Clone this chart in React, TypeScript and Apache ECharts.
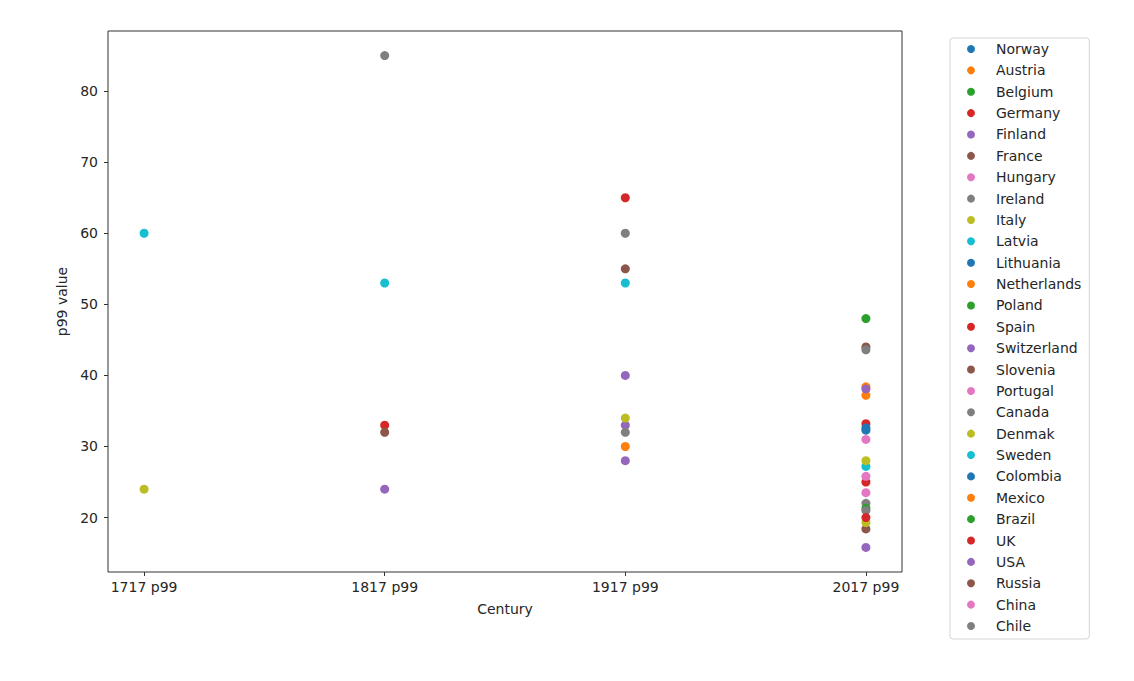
import React, { useEffect, useRef } from "react";
import * as echarts from "echarts";

const categories = ["1717 p99", "1817 p99", "1917 p99", "2017 p99"];
const yTicks = [20, 30, 40, 50, 60, 70, 80];
const xTicks = [0, 1, 2, 3];

const countries = [
  "Norway", "Austria", "Belgium", "Germany", "Finland", "France", "Hungary",
  "Ireland", "Italy", "Latvia", "Lithuania", "Netherlands", "Poland", "Spain",
  "Switzerland", "Slovenia", "Portugal", "Canada", "Denmak", "Sweden",
  "Colombia", "Mexico", "Brazil", "UK", "USA", "Russia", "China", "Chile",
];

const palette = [
  "#1f77b4", "#ff7f0e", "#2ca02c", "#d62728", "#9467bd",
  "#8c564b", "#e377c2", "#7f7f7f", "#bcbd22", "#17becf",
];

// values per century, in the order of `countries` (null = no value)
const p1717 = [
  null, null, null, null, null, null, null, null, null, null,
  null, null, null, null, null, null, null, null, 24, 60,
  null, null, null, null, null, null, null, null,
];
const p1817 = [
  null, null, null, 33, null, 32, null, 85, null, null,
  null, null, null, null, null, null, null, null, null, 53,
  null, null, null, null, 24, null, null, null,
];
const p1917 = [
  null, null, null, null, 33, null, null, null, null, null,
  null, 30, null, null, 28, null, null, 32, 34, 53,
  null, null, null, 65, 40, 55, null, 60,
];
const p2017 = [
  null, 37.2, null, 33.2, 15.8, 18.4, 23.5, 22, 19.3, 27.2,
  32.6, null, 21.3, 25, null, null, 31, 21, 28, null,
  32.3, 38.4, 48, 20, 38.1, 44, 25.8, 43.6,
];
const centuries = [p1717, p1817, p1917, p2017];

const FONT = "DejaVu Sans";
const TEXT = "#262626";

export default function App() {
  const ref = useRef<HTMLDivElement>(null);
  useEffect(() => {
    if (!ref.current) return;
    const chart = echarts.init(ref.current, null, { renderer: "svg" });
    const series = countries.map((name, i) => ({
      name,
      type: "scatter",
      symbol: "circle",
      symbolSize: 9,
      itemStyle: { color: palette[i % 10], opacity: 1 },
      data: centuries
        .map((arr, ci) => (arr[i] == null ? null : [xTicks[ci], arr[i]]))
        .filter((d) => d !== null),
    }));
    chart.setOption({
      animation: false,
      backgroundColor: "#ffffff",
      textStyle: { fontFamily: FONT },
      grid: {
        left: 108,
        top: 31,
        width: 794,
        height: 541,
        show: true,
        borderColor: "#333333",
        borderWidth: 1,
        containLabel: false,
      },
      xAxis: {
        type: "value",
        min: -0.15,
        max: 3.15,
        name: "Century",
        nameLocation: "middle",
        nameGap: 30,
        nameTextStyle: { fontFamily: FONT, fontSize: 14, color: TEXT },
        axisLine: { show: false, onZero: false },
        splitLine: { show: false },
        axisTick: {
          show: true,
          customValues: xTicks,
          length: 4,
          inside: false,
          lineStyle: { color: "#333333", width: 1 },
        },
        axisLabel: {
          customValues: xTicks,
          margin: 8,
          fontFamily: FONT,
          fontSize: 14,
          color: TEXT,
          formatter: (v: number) => categories[Math.round(v)] ?? "",
        },
      },
      yAxis: {
        type: "value",
        min: 12.34,
        max: 88.46,
        name: "p99 value",
        nameLocation: "middle",
        nameGap: 33,
        nameTextStyle: { fontFamily: FONT, fontSize: 14, color: TEXT },
        axisLine: { show: false, onZero: false },
        splitLine: { show: false },
        axisTick: {
          show: true,
          customValues: yTicks,
          length: 4,
          inside: false,
          lineStyle: { color: "#333333", width: 1 },
        },
        axisLabel: {
          customValues: yTicks,
          margin: 10,
          fontFamily: FONT,
          fontSize: 14,
          color: TEXT,
          formatter: (v: number) => String(Math.round(v)),
        },
      },
      legend: {
        orient: "vertical",
        left: 950,
        top: 38,
        padding: [4, 8, 6, 17],
        icon: "circle",
        itemWidth: 40,
        itemHeight: 8,
        itemGap: 7.37,
        borderColor: "#d4d4d4",
        borderWidth: 1,
        borderRadius: 3,
        backgroundColor: "#ffffff",
        textStyle: { fontFamily: FONT, fontSize: 14, color: TEXT, lineHeight: 14 },
        data: countries,
      },
      series,
    });
    return () => chart.dispose();
  }, []);
  return (
    <div
      ref={ref}
      style={{ position: "absolute", left: 0, top: 0, width: 1134, height: 681 }}
    />
  );
}
